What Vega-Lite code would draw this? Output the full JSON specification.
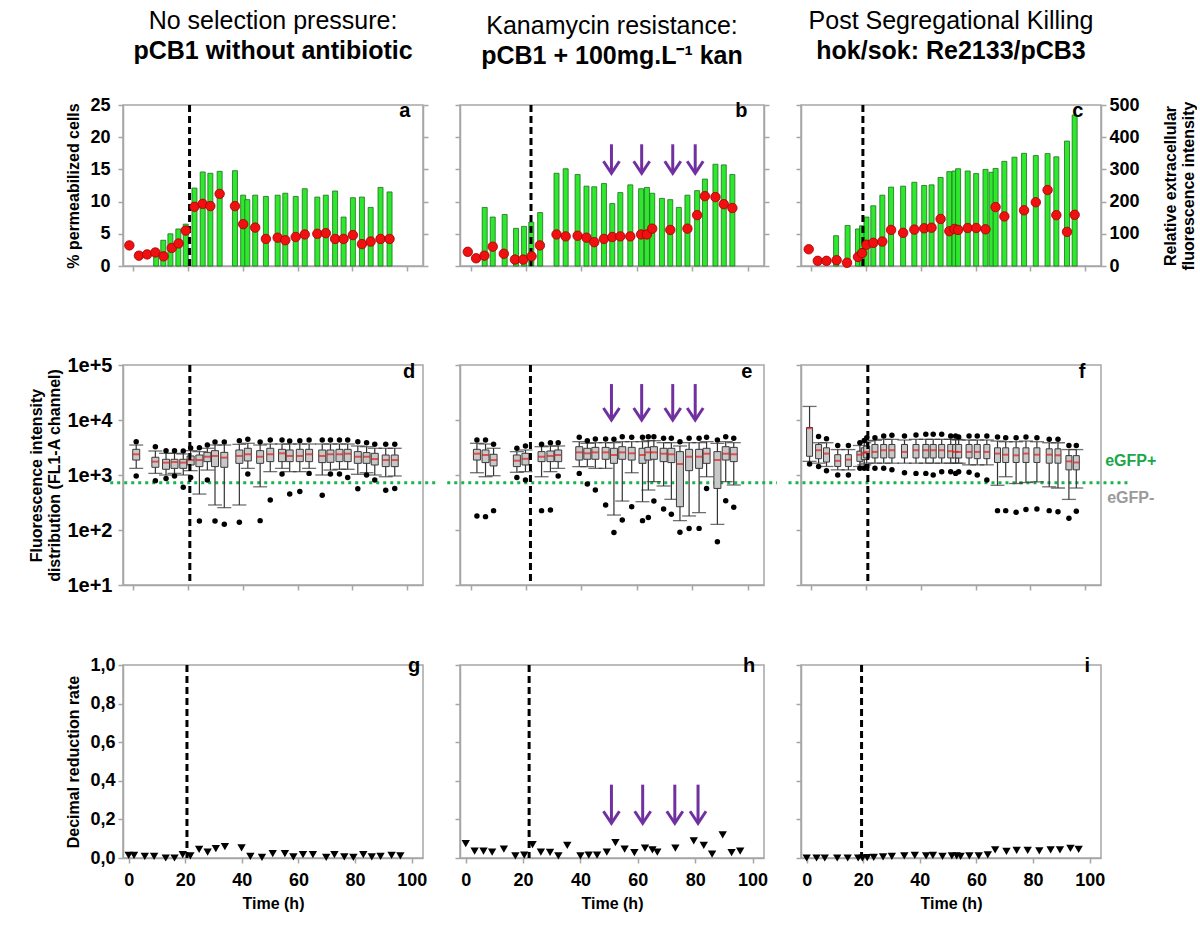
{
"$schema":"https://vega.github.io/schema/vega-lite/v6.json",
"padding":{"left":28,"top":8,"right":0,"bottom":0},
"background":"white",
"config":{
 "font":"Liberation Sans",
 "view":{"stroke":"#a6a6a6","strokeWidth":1.5},
 "axis":{"domainColor":"#a6a6a6","domainWidth":1.5,"tickColor":"#a6a6a6","tickWidth":1.5,"tickSize":5,"grid":false,"labelOverlap":false,"labelFlush":false,"labelBound":false,"labelFont":"Liberation Sans","labelFontSize":18,"labelFontWeight":"bold","labelColor":"#000","labelPadding":3,"titleFont":"Liberation Sans","titleFontSize":16,"titleFontWeight":"bold","titleColor":"#000"},
 "title":{"font":"Liberation Sans","fontSize":25,"fontWeight":"normal","color":"#000","subtitleFont":"Liberation Sans","subtitleFontSize":25,"subtitleFontWeight":"bold","subtitleColor":"#000","anchor":"middle","frame":"group","offset":32,"subtitlePadding":5}
},
"datasets":{
 "letters":[{"p":"a"},{"p":"b"},{"p":"c"},{"p":"d"},{"p":"e"},{"p":"f"},{"p":"g"},{"p":"h"},{"p":"i"}],
 "vl":[{"p":"a","t":20.5},{"p":"b","t":21.8},{"p":"c","t":18.8},{"p":"d","t":20.6},{"p":"e","t":21.6},{"p":"f","t":20.6},{"p":"g","t":20.6},{"p":"h","t":22.1},{"p":"i","t":19.4}],
 "arrows":[{"t":50.8},{"t":61.7},{"t":72.9},{"t":81.0}],
 "bars":[
  {"p":"a","t":8.3,"fl":52},{"p":"a","t":10.9,"fl":80},{"p":"a","t":13.5,"fl":100},{"p":"a","t":16.4,"fl":115},{"p":"a","t":19.1,"fl":130},{"p":"a","t":22.3,"fl":242},{"p":"a","t":25.3,"fl":292},{"p":"a","t":28.1,"fl":288},{"p":"a","t":31.5,"fl":294},{"p":"a","t":37.1,"fl":296},{"p":"a","t":40.1,"fl":220},{"p":"a","t":41.6,"fl":206},{"p":"a","t":44.5,"fl":220},{"p":"a","t":48.4,"fl":216},{"p":"a","t":52.7,"fl":220},{"p":"a","t":55.5,"fl":226},{"p":"a","t":59.3,"fl":216},{"p":"a","t":62.6,"fl":240},{"p":"a","t":67.2,"fl":214},{"p":"a","t":70.3,"fl":220},{"p":"a","t":73.7,"fl":233},{"p":"a","t":76.8,"fl":152},{"p":"a","t":80.2,"fl":212},{"p":"a","t":83.5,"fl":214},{"p":"a","t":86.7,"fl":182},{"p":"a","t":90.3,"fl":244},{"p":"a","t":93.6,"fl":230},
  {"p":"b","t":5.1,"fl":182},{"p":"b","t":8.0,"fl":152},{"p":"b","t":12.3,"fl":160},{"p":"b","t":16.4,"fl":117},{"p":"b","t":19.3,"fl":123},{"p":"b","t":21.9,"fl":136},{"p":"b","t":25.1,"fl":166},{"p":"b","t":31.0,"fl":288},{"p":"b","t":34.3,"fl":302},{"p":"b","t":38.6,"fl":284},{"p":"b","t":41.8,"fl":248},{"p":"b","t":44.6,"fl":246},{"p":"b","t":48.1,"fl":256},{"p":"b","t":51.1,"fl":194},{"p":"b","t":54.0,"fl":228},{"p":"b","t":57.6,"fl":252},{"p":"b","t":61.5,"fl":240},{"p":"b","t":63.6,"fl":244},{"p":"b","t":65.5,"fl":226},{"p":"b","t":69.0,"fl":210},{"p":"b","t":72.0,"fl":206},{"p":"b","t":75.1,"fl":182},{"p":"b","t":78.2,"fl":220},{"p":"b","t":81.7,"fl":234},{"p":"b","t":84.5,"fl":270},{"p":"b","t":88.3,"fl":316},{"p":"b","t":91.3,"fl":314},{"p":"b","t":94.4,"fl":284},
  {"p":"c","t":9.0,"fl":94},{"p":"c","t":13.2,"fl":126},{"p":"c","t":17.0,"fl":115},{"p":"c","t":18.5,"fl":125},{"p":"c","t":20.1,"fl":152},{"p":"c","t":22.6,"fl":187},{"p":"c","t":25.9,"fl":220},{"p":"c","t":29.1,"fl":245},{"p":"c","t":33.5,"fl":248},{"p":"c","t":37.6,"fl":260},{"p":"c","t":41.2,"fl":250},{"p":"c","t":43.9,"fl":252},{"p":"c","t":47.2,"fl":275},{"p":"c","t":50.4,"fl":293},{"p":"c","t":52.3,"fl":295},{"p":"c","t":53.6,"fl":302},{"p":"c","t":57.1,"fl":295},{"p":"c","t":60.2,"fl":287},{"p":"c","t":63.6,"fl":300},{"p":"c","t":65.8,"fl":291},{"p":"c","t":67.3,"fl":303},{"p":"c","t":70.5,"fl":325},{"p":"c","t":74.2,"fl":338},{"p":"c","t":77.7,"fl":350},{"p":"c","t":82.0,"fl":343},{"p":"c","t":86.3,"fl":349},{"p":"c","t":89.5,"fl":339},{"p":"c","t":93.4,"fl":388},{"p":"c","t":96.2,"fl":469}
 ],
 "dots":[
  {"p":"a","t":-1.5,"pct":3.2},{"p":"a","t":2.0,"pct":1.6},{"p":"a","t":5.0,"pct":1.8},{"p":"a","t":8.0,"pct":2.1},{"p":"a","t":11.0,"pct":1.5},{"p":"a","t":14.0,"pct":2.8},{"p":"a","t":16.5,"pct":3.5},{"p":"a","t":19.1,"pct":5.5},{"p":"a","t":22.3,"pct":9.2},{"p":"a","t":25.3,"pct":9.65},{"p":"a","t":28.1,"pct":9.3},{"p":"a","t":31.5,"pct":11.2},{"p":"a","t":37.1,"pct":9.3},{"p":"a","t":40.1,"pct":6.5},{"p":"a","t":44.5,"pct":5.96},{"p":"a","t":48.4,"pct":4.2},{"p":"a","t":52.7,"pct":4.4},{"p":"a","t":55.5,"pct":4.0},{"p":"a","t":59.3,"pct":4.5},{"p":"a","t":62.6,"pct":4.9},{"p":"a","t":67.2,"pct":5.0},{"p":"a","t":70.3,"pct":5.1},{"p":"a","t":73.7,"pct":4.2},{"p":"a","t":76.8,"pct":4.2},{"p":"a","t":80.2,"pct":4.8},{"p":"a","t":83.5,"pct":3.4},{"p":"a","t":86.7,"pct":3.8},{"p":"a","t":90.3,"pct":4.2},{"p":"a","t":93.6,"pct":4.2},
  {"p":"b","t":-1.0,"pct":2.2},{"p":"b","t":2.0,"pct":1.2},{"p":"b","t":5.0,"pct":1.6},{"p":"b","t":8.0,"pct":3.0},{"p":"b","t":12.0,"pct":1.9},{"p":"b","t":16.0,"pct":1.0},{"p":"b","t":19.0,"pct":1.0},{"p":"b","t":22.0,"pct":1.5},{"p":"b","t":25.0,"pct":3.2},{"p":"b","t":31.0,"pct":4.9},{"p":"b","t":34.3,"pct":4.6},{"p":"b","t":38.6,"pct":4.7},{"p":"b","t":41.8,"pct":4.4},{"p":"b","t":44.6,"pct":3.7},{"p":"b","t":48.1,"pct":4.2},{"p":"b","t":51.1,"pct":4.5},{"p":"b","t":54.0,"pct":4.6},{"p":"b","t":57.6,"pct":4.6},{"p":"b","t":61.5,"pct":4.9},{"p":"b","t":63.6,"pct":4.9},{"p":"b","t":65.5,"pct":5.8},{"p":"b","t":72.0,"pct":5.6},{"p":"b","t":78.2,"pct":5.8},{"p":"b","t":81.7,"pct":7.9},{"p":"b","t":84.5,"pct":10.85},{"p":"b","t":88.3,"pct":10.7},{"p":"b","t":91.3,"pct":9.6},{"p":"b","t":94.4,"pct":9.0},
  {"p":"c","t":-1.0,"pct":2.6},{"p":"c","t":2.3,"pct":0.8},{"p":"c","t":5.5,"pct":0.8},{"p":"c","t":9.2,"pct":0.9},{"p":"c","t":13.0,"pct":0.5},{"p":"c","t":17.0,"pct":1.4},{"p":"c","t":18.5,"pct":2.0},{"p":"c","t":20.1,"pct":3.3},{"p":"c","t":22.6,"pct":3.6},{"p":"c","t":25.9,"pct":3.8},{"p":"c","t":29.1,"pct":5.6},{"p":"c","t":33.5,"pct":5.15},{"p":"c","t":37.6,"pct":5.65},{"p":"c","t":41.2,"pct":5.85},{"p":"c","t":43.9,"pct":5.95},{"p":"c","t":47.2,"pct":7.3},{"p":"c","t":50.4,"pct":5.4},{"p":"c","t":52.3,"pct":5.75},{"p":"c","t":53.6,"pct":5.6},{"p":"c","t":57.1,"pct":5.9},{"p":"c","t":60.2,"pct":5.9},{"p":"c","t":63.6,"pct":5.7},{"p":"c","t":67.3,"pct":9.15},{"p":"c","t":70.5,"pct":7.7},{"p":"c","t":77.7,"pct":8.65},{"p":"c","t":82.0,"pct":9.9},{"p":"c","t":86.3,"pct":11.8},{"p":"c","t":89.5,"pct":7.9},{"p":"c","t":93.4,"pct":5.3},{"p":"c","t":96.2,"pct":7.95}
 ],
 "box":[
  {"p":"d","t":1.0,"hi":4040,"whi":3510,"q3":2930,"med":2380,"q1":1870,"wlo":1320,"lo":960},
  {"p":"d","t":8.0,"hi":3270,"whi":2730,"q3":2100,"med":1750,"q1":1380,"wlo":1070,"lo":790},
  {"p":"d","t":11.9,"hi":2770,"whi":2480,"q3":1930,"med":1680,"q1":1270,"wlo":1000,"lo":860},
  {"p":"d","t":15.0,"hi":2770,"whi":2480,"q3":1930,"med":1720,"q1":1320,"wlo":1070,"lo":960},
  {"p":"d","t":18.2,"hi":2730,"whi":2410,"q3":1930,"med":1680,"q1":1320,"wlo":1000,"lo":600},
  {"p":"d","t":20.9,"hi":3100,"whi":2770,"q3":2220,"med":1870,"q1":1520,"wlo":1200,"lo":900},
  {"p":"d","t":24.1,"hi":3140,"whi":2660,"q3":2310,"med":1870,"q1":1420,"wlo":450,"lo":146},
  {"p":"d","t":27.0,"hi":3510,"whi":3060,"q3":2580,"med":2150,"q1":1750,"wlo":1230,"lo":810},
  {"p":"d","t":29.8,"hi":3980,"whi":3510,"q3":2770,"med":2220,"q1":1420,"wlo":285,"lo":146},
  {"p":"d","t":33.2,"hi":3980,"whi":3510,"q3":2580,"med":2070,"q1":1380,"wlo":255,"lo":127},
  {"p":"d","t":38.7,"hi":4210,"whi":3610,"q3":2850,"med":2220,"q1":1630,"wlo":285,"lo":138},
  {"p":"d","t":41.8,"hi":4450,"whi":3770,"q3":3060,"med":2380,"q1":1800,"wlo":1320,"lo":1040},
  {"p":"d","t":46.3,"hi":3980,"whi":3510,"q3":2770,"med":2150,"q1":1630,"wlo":610,"lo":148},
  {"p":"d","t":50.0,"hi":4330,"whi":3660,"q3":3060,"med":2380,"q1":1750,"wlo":1150,"lo":350},
  {"p":"d","t":54.3,"hi":4330,"whi":3660,"q3":2930,"med":2480,"q1":1750,"wlo":1320,"lo":1040},
  {"p":"d","t":57.1,"hi":4150,"whi":3660,"q3":2850,"med":2220,"q1":1750,"wlo":1150,"lo":450},
  {"p":"d","t":60.8,"hi":4210,"whi":3660,"q3":2930,"med":2220,"q1":1750,"wlo":1150,"lo":500},
  {"p":"d","t":64.2,"hi":4330,"whi":3660,"q3":2930,"med":2380,"q1":1750,"wlo":1320,"lo":1070},
  {"p":"d","t":69.0,"hi":4330,"whi":3660,"q3":2850,"med":2220,"q1":1680,"wlo":1000,"lo":430},
  {"p":"d","t":72.0,"hi":4330,"whi":3660,"q3":2850,"med":2380,"q1":1700,"wlo":1230,"lo":1040},
  {"p":"d","t":75.3,"hi":4330,"whi":3660,"q3":2930,"med":2380,"q1":1750,"wlo":1270,"lo":1040},
  {"p":"d","t":78.3,"hi":4330,"whi":3660,"q3":2930,"med":2440,"q1":1750,"wlo":1270,"lo":900},
  {"p":"d","t":82.0,"hi":4040,"whi":3370,"q3":2660,"med":2150,"q1":1630,"wlo":1030,"lo":565},
  {"p":"d","t":85.2,"hi":3870,"whi":3270,"q3":2550,"med":2150,"q1":1630,"wlo":1100,"lo":1000},
  {"p":"d","t":88.2,"hi":3610,"whi":3060,"q3":2480,"med":1950,"q1":1520,"wlo":1000,"lo":810},
  {"p":"d","t":92.2,"hi":3610,"whi":3060,"q3":2310,"med":1870,"q1":1420,"wlo":930,"lo":530},
  {"p":"d","t":95.5,"hi":3610,"whi":3060,"q3":2310,"med":1870,"q1":1420,"wlo":960,"lo":570},
  {"p":"e","t":2.3,"hi":4330,"whi":3770,"q3":2930,"med":2440,"q1":1870,"wlo":1100,"lo":180},
  {"p":"e","t":5.4,"hi":4330,"whi":3660,"q3":2850,"med":2310,"q1":1680,"wlo":930,"lo":175},
  {"p":"e","t":8.3,"hi":3610,"whi":3060,"q3":2380,"med":1870,"q1":1460,"wlo":970,"lo":225},
  {"p":"e","t":16.7,"hi":3060,"whi":2660,"q3":2310,"med":1820,"q1":1420,"wlo":1120,"lo":900},
  {"p":"e","t":19.8,"hi":3370,"whi":2850,"q3":2480,"med":1970,"q1":1520,"wlo":1150,"lo":810},
  {"p":"e","t":25.6,"hi":3610,"whi":3270,"q3":2660,"med":2150,"q1":1750,"wlo":930,"lo":225},
  {"p":"e","t":28.8,"hi":3870,"whi":3370,"q3":2730,"med":2220,"q1":1750,"wlo":1150,"lo":231},
  {"p":"e","t":31.6,"hi":3870,"whi":3370,"q3":2850,"med":2310,"q1":1750,"wlo":1320,"lo":960},
  {"p":"e","t":39.2,"hi":4840,"whi":4040,"q3":3270,"med":2580,"q1":1870,"wlo":1420,"lo":1070},
  {"p":"e","t":42.1,"hi":4210,"whi":3770,"q3":3060,"med":2480,"q1":1930,"wlo":1420,"lo":686},
  {"p":"e","t":45.0,"hi":4520,"whi":3870,"q3":3180,"med":2580,"q1":1930,"wlo":1320,"lo":533},
  {"p":"e","t":48.7,"hi":4520,"whi":3870,"q3":3180,"med":2580,"q1":1930,"wlo":1320,"lo":285},
  {"p":"e","t":51.7,"hi":4450,"whi":3870,"q3":3060,"med":2310,"q1":1630,"wlo":187,"lo":90},
  {"p":"e","t":54.7,"hi":4980,"whi":4040,"q3":3270,"med":2580,"q1":1930,"wlo":336,"lo":152},
  {"p":"e","t":58.1,"hi":4840,"whi":4040,"q3":3180,"med":2480,"q1":1870,"wlo":1100,"lo":265},
  {"p":"e","t":62.0,"hi":4840,"whi":4040,"q3":3060,"med":2310,"q1":1630,"wlo":327,"lo":148},
  {"p":"e","t":64.1,"hi":4980,"whi":4210,"q3":3180,"med":2580,"q1":1870,"wlo":533,"lo":168},
  {"p":"e","t":66.1,"hi":4980,"whi":4210,"q3":3270,"med":2580,"q1":1930,"wlo":757,"lo":336},
  {"p":"e","t":69.6,"hi":4640,"whi":3870,"q3":3060,"med":2440,"q1":1750,"wlo":631,"lo":241},
  {"p":"e","t":72.4,"hi":4640,"whi":3870,"q3":3060,"med":2380,"q1":1680,"wlo":361,"lo":193},
  {"p":"e","t":75.5,"hi":4040,"whi":3370,"q3":2660,"med":1585,"q1":265,"wlo":148,"lo":91},
  {"p":"e","t":78.8,"hi":4640,"whi":3870,"q3":2930,"med":2150,"q1":1200,"wlo":180,"lo":106},
  {"p":"e","t":82.4,"hi":4640,"whi":3870,"q3":2930,"med":2150,"q1":1320,"wlo":207,"lo":107},
  {"p":"e","t":85.1,"hi":4840,"whi":4040,"q3":3060,"med":2440,"q1":1630,"wlo":930,"lo":570},
  {"p":"e","t":89.0,"hi":4330,"whi":3770,"q3":2660,"med":1870,"q1":570,"wlo":127,"lo":61},
  {"p":"e","t":92.0,"hi":4980,"whi":4040,"q3":3270,"med":2440,"q1":1870,"wlo":757,"lo":341},
  {"p":"e","t":94.9,"hi":4640,"whi":3870,"q3":3180,"med":2380,"q1":1750,"wlo":658,"lo":258},
  {"p":"f","t":-0.7,"hi":null,"whi":17650,"q3":7310,"med":7100,"q1":2190,"wlo":1770,"lo":1580},
  {"p":"f","t":2.6,"hi":4990,"whi":3860,"q3":3590,"med":2820,"q1":1980,"wlo":1640,"lo":1430},
  {"p":"f","t":5.5,"hi":4570,"whi":3860,"q3":3120,"med":2450,"q1":1720,"wlo":1430,"lo":1200},
  {"p":"f","t":9.6,"hi":3440,"whi":2900,"q3":2340,"med":1810,"q1":1430,"wlo":1240,"lo":1000},
  {"p":"f","t":13.5,"hi":3440,"whi":2900,"q3":2340,"med":1900,"q1":1430,"wlo":1240,"lo":1000},
  {"p":"f","t":17.7,"hi":3860,"whi":3440,"q3":2710,"med":2340,"q1":1770,"wlo":1430,"lo":1330},
  {"p":"f","t":19.3,"hi":4260,"whi":3860,"q3":3120,"med":2520,"q1":1900,"wlo":1530,"lo":1330},
  {"p":"f","t":20.2,"hi":4770,"whi":4140,"q3":3350,"med":2630,"q1":2040,"wlo":1640,"lo":1430},
  {"p":"f","t":23.2,"hi":4770,"whi":4260,"q3":3590,"med":2630,"q1":2040,"wlo":1640,"lo":1330},
  {"p":"f","t":26.4,"hi":5120,"whi":4450,"q3":3590,"med":2820,"q1":2040,"wlo":1640,"lo":1330},
  {"p":"f","t":29.4,"hi":5270,"whi":4450,"q3":3590,"med":2820,"q1":2040,"wlo":1640,"lo":1240},
  {"p":"f","t":34.0,"hi":5120,"whi":4330,"q3":3590,"med":2630,"q1":2040,"wlo":1640,"lo":1100},
  {"p":"f","t":38.2,"hi":5350,"whi":4450,"q3":3590,"med":2820,"q1":2040,"wlo":1640,"lo":1070},
  {"p":"f","t":41.8,"hi":5510,"whi":4450,"q3":3590,"med":2820,"q1":2040,"wlo":1640,"lo":1070},
  {"p":"f","t":44.5,"hi":5510,"whi":4450,"q3":3590,"med":2820,"q1":2040,"wlo":1640,"lo":1000},
  {"p":"f","t":47.6,"hi":5510,"whi":4450,"q3":3590,"med":2820,"q1":2040,"wlo":1640,"lo":1150},
  {"p":"f","t":50.9,"hi":5120,"whi":4450,"q3":3590,"med":2710,"q1":2040,"wlo":1640,"lo":1150},
  {"p":"f","t":52.7,"hi":5120,"whi":4450,"q3":3590,"med":2630,"q1":2040,"wlo":1640,"lo":1070},
  {"p":"f","t":53.8,"hi":4910,"whi":4330,"q3":3590,"med":2630,"q1":2040,"wlo":1640,"lo":1150},
  {"p":"f","t":57.6,"hi":5120,"whi":4330,"q3":3590,"med":2630,"q1":2040,"wlo":1530,"lo":1120},
  {"p":"f","t":60.6,"hi":5120,"whi":4330,"q3":3590,"med":2630,"q1":1980,"wlo":1530,"lo":1000},
  {"p":"f","t":64.1,"hi":5120,"whi":4330,"q3":3590,"med":2630,"q1":1980,"wlo":1530,"lo":810},
  {"p":"f","t":68.0,"hi":4910,"whi":4140,"q3":3120,"med":2450,"q1":1690,"wlo":650,"lo":225},
  {"p":"f","t":71.0,"hi":4770,"whi":4030,"q3":3120,"med":2340,"q1":1690,"wlo":930,"lo":225},
  {"p":"f","t":74.8,"hi":4770,"whi":4030,"q3":3120,"med":2280,"q1":1690,"wlo":700,"lo":210},
  {"p":"f","t":78.4,"hi":4910,"whi":4140,"q3":3120,"med":2450,"q1":1690,"wlo":730,"lo":235},
  {"p":"f","t":82.4,"hi":4770,"whi":4030,"q3":3120,"med":2340,"q1":1690,"wlo":750,"lo":242},
  {"p":"f","t":86.9,"hi":4450,"whi":3860,"q3":2990,"med":2340,"q1":1640,"wlo":610,"lo":225},
  {"p":"f","t":90.1,"hi":4450,"whi":3860,"q3":2990,"med":2280,"q1":1640,"wlo":580,"lo":215},
  {"p":"f","t":94.1,"hi":3440,"whi":2900,"q3":2250,"med":1770,"q1":1240,"wlo":360,"lo":164},
  {"p":"f","t":96.8,"hi":3440,"whi":2900,"q3":2250,"med":1690,"q1":1240,"wlo":580,"lo":219}
 ],
 "drr":[
  {"p":"g","t":0,"v":0.014},{"p":"g","t":1.9,"v":0.014},{"p":"g","t":5.7,"v":0.008},{"p":"g","t":9.0,"v":0.008},{"p":"g","t":13.1,"v":0.0},{"p":"g","t":16.2,"v":0.0},{"p":"g","t":19.1,"v":0.018},{"p":"g","t":21.8,"v":0.011},{"p":"g","t":24.9,"v":0.045},{"p":"g","t":27.9,"v":0.03},{"p":"g","t":30.8,"v":0.048},{"p":"g","t":34.0,"v":0.059},{"p":"g","t":39.9,"v":0.052},{"p":"g","t":43.0,"v":0.008},{"p":"g","t":47.1,"v":0.003},{"p":"g","t":50.9,"v":0.023},{"p":"g","t":55.2,"v":0.023},{"p":"g","t":58.2,"v":0.006},{"p":"g","t":61.6,"v":0.018},{"p":"g","t":65.1,"v":0.018},{"p":"g","t":69.8,"v":0.003},{"p":"g","t":72.7,"v":0.018},{"p":"g","t":76.2,"v":0.006},{"p":"g","t":79.4,"v":0.003},{"p":"g","t":82.9,"v":0.018},{"p":"g","t":85.9,"v":0.006},{"p":"g","t":89.0,"v":0.008},{"p":"g","t":92.9,"v":0.014},{"p":"g","t":96.0,"v":0.011},
  {"p":"h","t":0,"v":0.074},{"p":"h","t":3.1,"v":0.035},{"p":"h","t":6.2,"v":0.035},{"p":"h","t":9.2,"v":0.031},{"p":"h","t":13.3,"v":0.046},{"p":"h","t":17.3,"v":0.011},{"p":"h","t":20.4,"v":0.015},{"p":"h","t":23.3,"v":0.069},{"p":"h","t":26.2,"v":0.031},{"p":"h","t":29.4,"v":0.029},{"p":"h","t":32.3,"v":0.011},{"p":"h","t":35.4,"v":0.065},{"p":"h","t":40.0,"v":0.011},{"p":"h","t":42.9,"v":0.015},{"p":"h","t":45.8,"v":0.015},{"p":"h","t":49.2,"v":0.031},{"p":"h","t":52.2,"v":0.08},{"p":"h","t":55.4,"v":0.046},{"p":"h","t":58.8,"v":0.028},{"p":"h","t":62.5,"v":0.051},{"p":"h","t":65.1,"v":0.042},{"p":"h","t":66.8,"v":0.031},{"p":"h","t":73.1,"v":0.051},{"p":"h","t":79.5,"v":0.089},{"p":"h","t":83.0,"v":0.066},{"p":"h","t":85.9,"v":0.02},{"p":"h","t":89.6,"v":0.12},{"p":"h","t":92.7,"v":0.028},{"p":"h","t":95.7,"v":0.035},
  {"p":"i","t":0,"v":0},{"p":"i","t":3.5,"v":0},{"p":"i","t":6.4,"v":0},{"p":"i","t":10.8,"v":0},{"p":"i","t":14.5,"v":0},{"p":"i","t":18.2,"v":0},{"p":"i","t":19.7,"v":0},{"p":"i","t":21.4,"v":0.002},{"p":"i","t":23.7,"v":0.003},{"p":"i","t":27.0,"v":0.006},{"p":"i","t":30.1,"v":0.008},{"p":"i","t":34.5,"v":0.011},{"p":"i","t":38.2,"v":0.014},{"p":"i","t":42.2,"v":0.011},{"p":"i","t":44.6,"v":0.014},{"p":"i","t":48.0,"v":0.008},{"p":"i","t":51.3,"v":0.011},{"p":"i","t":53.0,"v":0.011},{"p":"i","t":54.4,"v":0.008},{"p":"i","t":57.5,"v":0.011},{"p":"i","t":60.8,"v":0.011},{"p":"i","t":64.0,"v":0.016},{"p":"i","t":66.6,"v":0.042},{"p":"i","t":70.6,"v":0.034},{"p":"i","t":74.2,"v":0.039},{"p":"i","t":78.1,"v":0.039},{"p":"i","t":82.2,"v":0.037},{"p":"i","t":86.2,"v":0.042},{"p":"i","t":89.5,"v":0.042},{"p":"i","t":93.2,"v":0.05},{"p":"i","t":96.1,"v":0.045}
 ]
},
"spacing":59,
"vconcat":[
 {"hconcat":[
  {"width":300,"height":161,
   "title":{"text":"No selection pressure:","subtitle":"pCB1 without antibiotic"},
   "resolve":{"scale":{"y":"independent"}},
   "layer":[
    {"data":{"name":"bars"},"transform":[{"filter":"datum.p==='a'"}],
     "mark":{"type":"bar","size":5,"fill":"#2ee82e","stroke":"#1e6e1e","strokeWidth":0.8},
     "encoding":{"x":{"field":"t","type":"quantitative","scale":{"domain":[-2,104],"nice":false,"zero":false},"axis":{"values":[0,20,40,60,80,100],"labelOpacity":0,"labelFontSize":14,"labelPadding":9,"title":null}},
      "y":{"field":"fl","type":"quantitative","scale":{"domain":[0,500],"nice":false},"axis":{"orient":"right","values":[0,100,200,300,400,500],"labels":false,"title":null}}}},
    {"layer":[
     {"data":{"name":"vl"},"transform":[{"filter":"datum.p==='a'"}],"mark":{"type":"rule","strokeDash":[7,4],"strokeWidth":3,"color":"#000"},
      "encoding":{"x":{"field":"t","type":"quantitative"}}},
     {"data":{"name":"dots"},"transform":[{"filter":"datum.p==='a'"}],"mark":{"type":"circle","size":90,"fill":"#f01010","stroke":"#a00000","strokeWidth":0.8,"opacity":1},
      "encoding":{"x":{"field":"t","type":"quantitative"},
       "y":{"field":"pct","type":"quantitative","scale":{"domain":[0,25],"nice":false},"axis":{"orient":"left","values":[0,5,10,15,20,25],"labelOverlap":false,"labelPadding":8,"title":"% permeabilized cells","titlePadding":8}}}},
     {"data":{"name":"letters"},"transform":[{"filter":"datum.p==='a'"}],"mark":{"type":"text","fontSize":20,"fontWeight":"bold","align":"right","baseline":"middle"},
      "encoding":{"text":{"field":"p"},"x":{"datum":101.2,"type":"quantitative"},"y":{"datum":24.0,"type":"quantitative","axis":{"orient":"left","values":[0,5,10,15,20,25],"labelOverlap":false,"labelPadding":8,"title":"% permeabilized cells","titlePadding":8}}}}
    ]}
   ]},
  {"width":304,"height":161,
   "title":{"text":"Kanamycin resistance:","subtitle":"pCB1 + 100mg.L⁻¹ kan"},
   "resolve":{"scale":{"y":"independent"}},
   "layer":[
    {"data":{"name":"bars"},"transform":[{"filter":"datum.p==='b'"}],
     "mark":{"type":"bar","size":5,"fill":"#2ee82e","stroke":"#1e6e1e","strokeWidth":0.8},
     "encoding":{"x":{"field":"t","type":"quantitative","scale":{"domain":[-2,104],"nice":false,"zero":false},"axis":{"values":[0,20,40,60,80,100],"labelOpacity":0,"labelFontSize":14,"labelPadding":9,"title":null}},
      "y":{"field":"fl","type":"quantitative","scale":{"domain":[0,500],"nice":false},"axis":{"orient":"right","values":[0,100,200,300,400,500],"labels":false,"title":null}}}},
    {"layer":[
     {"data":{"name":"vl"},"transform":[{"filter":"datum.p==='b'"}],"mark":{"type":"rule","strokeDash":[7,4],"strokeWidth":3,"color":"#000"},
      "encoding":{"x":{"field":"t","type":"quantitative"}}},
     {"data":{"name":"dots"},"transform":[{"filter":"datum.p==='b'"}],"mark":{"type":"circle","size":90,"fill":"#f01010","stroke":"#a00000","strokeWidth":0.8,"opacity":1},
      "encoding":{"x":{"field":"t","type":"quantitative"},
       "y":{"field":"pct","type":"quantitative","scale":{"domain":[0,25],"nice":false},"axis":{"orient":"left","values":[0,5,10,15,20,25],"labels":false,"title":null}}}},
     {"data":{"name":"arrows"},"mark":{"type":"rule","strokeWidth":3,"color":"#7030a0"},
      "encoding":{"x":{"field":"t","type":"quantitative"},"y":{"datum":18.9,"type":"quantitative","axis":{"orient":"left","values":[0,5,10,15,20,25],"labels":false,"title":null}},"y2":{"datum":14.5}}},
     {"data":{"name":"arrows"},"mark":{"type":"point","shape":"M-1,-1.5L0,0L1,-1.5","size":256,"filled":false,"stroke":"#7030a0","strokeWidth":3,"opacity":1},
      "encoding":{"x":{"field":"t","type":"quantitative"},"y":{"datum":14.4,"type":"quantitative","axis":{"orient":"left","values":[0,5,10,15,20,25],"labels":false,"title":null}}}},
     {"data":{"name":"letters"},"transform":[{"filter":"datum.p==='b'"}],"mark":{"type":"text","fontSize":20,"fontWeight":"bold","align":"right","baseline":"middle"},
      "encoding":{"text":{"field":"p"},"x":{"datum":99.8,"type":"quantitative"},"y":{"datum":24.0,"type":"quantitative","axis":{"orient":"left","values":[0,5,10,15,20,25],"labels":false,"title":null}}}}
    ]}
   ]},
  {"width":300,"height":161,
   "title":{"text":"Post Segregational Killing","subtitle":"hok/sok: Re2133/pCB3"},
   "resolve":{"scale":{"y":"independent"}},
   "layer":[
    {"data":{"name":"bars"},"transform":[{"filter":"datum.p==='c'"}],
     "mark":{"type":"bar","size":5,"fill":"#2ee82e","stroke":"#1e6e1e","strokeWidth":0.8},
     "encoding":{"x":{"field":"t","type":"quantitative","scale":{"domain":[-2,104],"nice":false,"zero":false},"axis":{"values":[0,20,40,60,80,100],"labelOpacity":0,"labelFontSize":14,"labelPadding":9,"title":null}},
      "y":{"field":"fl","type":"quantitative","scale":{"domain":[0,500],"nice":false},"axis":{"orient":"right","values":[0,100,200,300,400,500],"labelOverlap":false,"title":["Relative extracellular","fluorescence intensity"],"titleAngle":270,"titleBaseline":"top","titlePadding":5}}}},
    {"layer":[
     {"data":{"name":"vl"},"transform":[{"filter":"datum.p==='c'"}],"mark":{"type":"rule","strokeDash":[7,4],"strokeWidth":3,"color":"#000"},
      "encoding":{"x":{"field":"t","type":"quantitative"}}},
     {"data":{"name":"dots"},"transform":[{"filter":"datum.p==='c'"}],"mark":{"type":"circle","size":90,"fill":"#f01010","stroke":"#a00000","strokeWidth":0.8,"opacity":1},
      "encoding":{"x":{"field":"t","type":"quantitative"},
       "y":{"field":"pct","type":"quantitative","scale":{"domain":[0,25],"nice":false},"axis":{"orient":"left","values":[0,5,10,15,20,25],"labels":false,"title":null}}}},
     {"data":{"name":"letters"},"transform":[{"filter":"datum.p==='c'"}],"mark":{"type":"text","fontSize":20,"fontWeight":"bold","align":"right","baseline":"middle"},
      "encoding":{"text":{"field":"p"},"x":{"datum":99.4,"type":"quantitative"},"y":{"datum":24.0,"type":"quantitative","axis":{"orient":"left","values":[0,5,10,15,20,25],"labels":false,"title":null}}}}
    ]}
   ]}
 ],"spacing":37,"bounds":"flush"},
 {"hconcat":[
   {"width":300,"height":220,
    "layer":[
     {"data":{"name":"letters"},"transform":[{"filter":"datum.p==='d'"}],"mark":{"type":"rule","strokeDash":[3,4],"strokeWidth":3,"color":"#19b44b"},
      "encoding":{"x":{"datum":-8.5,"type":"quantitative","scale":{"domain":[-2,104],"nice":false,"zero":false},"axis":{"values":[0,20,40,60,80,100],"labels":false,"title":null}},"x2":{"datum":110.5},
       "y":{"datum":720,"type":"quantitative","scale":{"type":"log","domain":[10,100000],"nice":false},"axis":{"values":[10,100,1000,10000,100000],"labelOverlap":false,"labelExpr":"'1e+' + round(log(datum.value)/LN10)","labelFontSize":20,"labelPadding":6,"title":["Fluorescence intensity","distribution (FL1-A channel)"],"titlePadding":4}}}},
     {"data":{"name":"box"},"transform":[{"filter":"datum.p==='d'"}],"mark":{"type":"rule","color":"#333","strokeWidth":1.2},
      "encoding":{"x":{"field":"t","type":"quantitative"},"y":{"field":"wlo","type":"quantitative"},"y2":{"field":"whi"}}},
     {"data":{"name":"box"},"transform":[{"filter":"datum.p==='d'"}],"mark":{"type":"tick","orient":"horizontal","size":14,"thickness":1.3,"color":"#333"},
      "encoding":{"x":{"field":"t","type":"quantitative"},"y":{"field":"whi","type":"quantitative"}}},
     {"data":{"name":"box"},"transform":[{"filter":"datum.p==='d'"}],"mark":{"type":"tick","orient":"horizontal","size":14,"thickness":1.3,"color":"#333"},
      "encoding":{"x":{"field":"t","type":"quantitative"},"y":{"field":"wlo","type":"quantitative"}}},
     {"data":{"name":"box"},"transform":[{"filter":"datum.p==='d'"}],"mark":{"type":"bar","size":7,"fill":"#c8c8c8","stroke":"#3a3a3a","strokeWidth":1},
      "encoding":{"x":{"field":"t","type":"quantitative"},"y":{"field":"q1","type":"quantitative"},"y2":{"field":"q3"}}},
     {"data":{"name":"box"},"transform":[{"filter":"datum.p==='d'"}],"mark":{"type":"tick","orient":"horizontal","size":7,"thickness":2,"color":"#e02020"},
      "encoding":{"x":{"field":"t","type":"quantitative"},"y":{"field":"med","type":"quantitative"}}},
     {"data":{"name":"box"},"transform":[{"filter":"datum.p==='d'"}],"mark":{"type":"circle","size":30,"color":"#000","opacity":1},
      "encoding":{"x":{"field":"t","type":"quantitative"},"y":{"field":"hi","type":"quantitative"}}},
     {"data":{"name":"box"},"transform":[{"filter":"datum.p==='d'"}],"mark":{"type":"circle","size":30,"color":"#000","opacity":1},
      "encoding":{"x":{"field":"t","type":"quantitative"},"y":{"field":"lo","type":"quantitative"}}},
     {"data":{"name":"vl"},"transform":[{"filter":"datum.p==='d'"}],"mark":{"type":"rule","strokeDash":[7,4],"strokeWidth":3,"color":"#000"},
      "encoding":{"x":{"field":"t","type":"quantitative"}}},
     {"data":{"name":"letters"},"transform":[{"filter":"datum.p==='d'"}],"mark":{"type":"text","fontSize":20,"fontWeight":"bold","align":"right","baseline":"middle"},
      "encoding":{"text":{"field":"p"},"x":{"datum":103.0,"type":"quantitative"},"y":{"datum":75000,"type":"quantitative"}}}
    ]},
   {"width":304,"height":220,
    "layer":[
     {"data":{"name":"letters"},"transform":[{"filter":"datum.p==='e'"}],"mark":{"type":"rule","strokeDash":[3,4],"strokeWidth":3,"color":"#19b44b"},
      "encoding":{"x":{"datum":-8.4,"type":"quantitative","scale":{"domain":[-2,104],"nice":false,"zero":false},"axis":{"values":[0,20,40,60,80,100],"labels":false,"title":null}},"x2":{"datum":110.5},
       "y":{"datum":720,"type":"quantitative","scale":{"type":"log","domain":[10,100000],"nice":false},"axis":{"values":[10,100,1000,10000,100000],"labels":false,"title":null}}}},
     {"data":{"name":"box"},"transform":[{"filter":"datum.p==='e'"}],"mark":{"type":"rule","color":"#333","strokeWidth":1.2},
      "encoding":{"x":{"field":"t","type":"quantitative"},"y":{"field":"wlo","type":"quantitative"},"y2":{"field":"whi"}}},
     {"data":{"name":"box"},"transform":[{"filter":"datum.p==='e'"}],"mark":{"type":"tick","orient":"horizontal","size":14,"thickness":1.3,"color":"#333"},
      "encoding":{"x":{"field":"t","type":"quantitative"},"y":{"field":"whi","type":"quantitative"}}},
     {"data":{"name":"box"},"transform":[{"filter":"datum.p==='e'"}],"mark":{"type":"tick","orient":"horizontal","size":14,"thickness":1.3,"color":"#333"},
      "encoding":{"x":{"field":"t","type":"quantitative"},"y":{"field":"wlo","type":"quantitative"}}},
     {"data":{"name":"box"},"transform":[{"filter":"datum.p==='e'"}],"mark":{"type":"bar","size":7,"fill":"#c8c8c8","stroke":"#3a3a3a","strokeWidth":1},
      "encoding":{"x":{"field":"t","type":"quantitative"},"y":{"field":"q1","type":"quantitative"},"y2":{"field":"q3"}}},
     {"data":{"name":"box"},"transform":[{"filter":"datum.p==='e'"}],"mark":{"type":"tick","orient":"horizontal","size":7,"thickness":2,"color":"#e02020"},
      "encoding":{"x":{"field":"t","type":"quantitative"},"y":{"field":"med","type":"quantitative"}}},
     {"data":{"name":"box"},"transform":[{"filter":"datum.p==='e'"}],"mark":{"type":"circle","size":30,"color":"#000","opacity":1},
      "encoding":{"x":{"field":"t","type":"quantitative"},"y":{"field":"hi","type":"quantitative"}}},
     {"data":{"name":"box"},"transform":[{"filter":"datum.p==='e'"}],"mark":{"type":"circle","size":30,"color":"#000","opacity":1},
      "encoding":{"x":{"field":"t","type":"quantitative"},"y":{"field":"lo","type":"quantitative"}}},
     {"data":{"name":"vl"},"transform":[{"filter":"datum.p==='e'"}],"mark":{"type":"rule","strokeDash":[7,4],"strokeWidth":3,"color":"#000"},
      "encoding":{"x":{"field":"t","type":"quantitative"}}},
     {"data":{"name":"arrows"},"mark":{"type":"rule","strokeWidth":3,"color":"#7030a0"},
      "encoding":{"x":{"field":"t","type":"quantitative"},"y":{"datum":45000,"type":"quantitative"},"y2":{"datum":10500}}},
     {"data":{"name":"arrows"},"mark":{"type":"point","shape":"M-1,-1.5L0,0L1,-1.5","size":256,"filled":false,"stroke":"#7030a0","strokeWidth":3,"opacity":1},
      "encoding":{"x":{"field":"t","type":"quantitative"},"y":{"datum":10000,"type":"quantitative"}}},
     {"data":{"name":"letters"},"transform":[{"filter":"datum.p==='e'"}],"mark":{"type":"text","fontSize":20,"fontWeight":"bold","align":"right","baseline":"middle"},
      "encoding":{"text":{"field":"p"},"x":{"datum":101.6,"type":"quantitative"},"y":{"datum":75000,"type":"quantitative"}}}
    ]},
   {"width":300,"height":220,
    "layer":[
     {"data":{"name":"letters"},"transform":[{"filter":"datum.p==='f'"}],"mark":{"type":"rule","strokeDash":[3,4],"strokeWidth":3,"color":"#19b44b"},
      "encoding":{"x":{"datum":-8.4,"type":"quantitative","scale":{"domain":[-2,104],"nice":false,"zero":false},"axis":{"values":[0,20,40,60,80,100],"labels":false,"title":null}},"x2":{"datum":115.5},
       "y":{"datum":720,"type":"quantitative","scale":{"type":"log","domain":[10,100000],"nice":false},"axis":{"values":[10,100,1000,10000,100000],"labels":false,"title":null}}}},
     {"data":{"name":"box"},"transform":[{"filter":"datum.p==='f'"}],"mark":{"type":"rule","color":"#333","strokeWidth":1.2},
      "encoding":{"x":{"field":"t","type":"quantitative"},"y":{"field":"wlo","type":"quantitative"},"y2":{"field":"whi"}}},
     {"data":{"name":"box"},"transform":[{"filter":"datum.p==='f'"}],"mark":{"type":"tick","orient":"horizontal","size":14,"thickness":1.3,"color":"#333"},
      "encoding":{"x":{"field":"t","type":"quantitative"},"y":{"field":"whi","type":"quantitative"}}},
     {"data":{"name":"box"},"transform":[{"filter":"datum.p==='f'"}],"mark":{"type":"tick","orient":"horizontal","size":14,"thickness":1.3,"color":"#333"},
      "encoding":{"x":{"field":"t","type":"quantitative"},"y":{"field":"wlo","type":"quantitative"}}},
     {"data":{"name":"box"},"transform":[{"filter":"datum.p==='f'"}],"mark":{"type":"bar","size":6,"fill":"#c8c8c8","stroke":"#3a3a3a","strokeWidth":1},
      "encoding":{"x":{"field":"t","type":"quantitative"},"y":{"field":"q1","type":"quantitative"},"y2":{"field":"q3"}}},
     {"data":{"name":"box"},"transform":[{"filter":"datum.p==='f'"}],"mark":{"type":"tick","orient":"horizontal","size":6,"thickness":2,"color":"#e02020"},
      "encoding":{"x":{"field":"t","type":"quantitative"},"y":{"field":"med","type":"quantitative"}}},
     {"data":{"name":"box"},"transform":[{"filter":"datum.p==='f'"}],"mark":{"type":"circle","size":30,"color":"#000","opacity":1},
      "encoding":{"x":{"field":"t","type":"quantitative"},"y":{"field":"hi","type":"quantitative"}}},
     {"data":{"name":"box"},"transform":[{"filter":"datum.p==='f'"}],"mark":{"type":"circle","size":30,"color":"#000","opacity":1},
      "encoding":{"x":{"field":"t","type":"quantitative"},"y":{"field":"lo","type":"quantitative"}}},
     {"data":{"name":"vl"},"transform":[{"filter":"datum.p==='f'"}],"mark":{"type":"rule","strokeDash":[7,4],"strokeWidth":3,"color":"#000"},
      "encoding":{"x":{"field":"t","type":"quantitative"}}},
     {"data":{"name":"letters"},"transform":[{"filter":"datum.p==='f'"}],"mark":{"type":"text","fontSize":20,"fontWeight":"bold","align":"right","baseline":"middle"},
      "encoding":{"text":{"field":"p"},"x":{"datum":100.1,"type":"quantitative"},"y":{"datum":75000,"type":"quantitative"}}},
     {"data":{"name":"letters"},"transform":[{"filter":"datum.p==='f'"}],"mark":{"type":"text","text":"eGFP+","fontSize":16,"fontWeight":"bold","color":"#1aa74a","align":"center","baseline":"middle"},
      "encoding":{"x":{"datum":116.7,"type":"quantitative"},"y":{"datum":1800,"type":"quantitative"}}},
     {"data":{"name":"letters"},"transform":[{"filter":"datum.p==='f'"}],"mark":{"type":"text","text":"eGFP-","fontSize":16,"fontWeight":"bold","color":"#9a9a9a","align":"center","baseline":"middle"},
      "encoding":{"x":{"datum":116.7,"type":"quantitative"},"y":{"datum":382,"type":"quantitative"}}}
    ]}
 ],"spacing":37,"bounds":"flush"},
 {"hconcat":[
   {"width":300,"height":193,
    "layer":[
     {"data":{"name":"drr"},"transform":[{"filter":"datum.p==='g'"}],"mark":{"type":"point","shape":"triangle-down","size":70,"filled":true,"color":"#000","opacity":1},
      "encoding":{"x":{"field":"t","type":"quantitative","scale":{"domain":[-2,104],"nice":false,"zero":false},"axis":{"values":[0,20,40,60,80,100],"labelOverlap":false,"title":"Time (h)","labelPadding":8,"titlePadding":6}},
       "y":{"field":"v","type":"quantitative","scale":{"domain":[0,1],"nice":false},"axis":{"values":[0,0.2,0.4,0.6,0.8,1],"labelOverlap":false,"labelExpr":"replace(format(datum.value,'.1f'),'.',',')","title":"Decimal reduction rate","titlePadding":8}}}},
     {"data":{"name":"vl"},"transform":[{"filter":"datum.p==='g'"}],"mark":{"type":"rule","strokeDash":[7,4],"strokeWidth":3,"color":"#000"},
      "encoding":{"x":{"field":"t","type":"quantitative"}}},
     {"data":{"name":"letters"},"transform":[{"filter":"datum.p==='g'"}],"mark":{"type":"text","fontSize":20,"fontWeight":"bold","align":"right","baseline":"middle"},
      "encoding":{"text":{"field":"p"},"x":{"datum":103.0,"type":"quantitative"},"y":{"datum":0.995,"type":"quantitative","axis":{"values":[0,0.2,0.4,0.6,0.8,1],"labelOverlap":false,"labelExpr":"replace(format(datum.value,'.1f'),'.',',')","title":"Decimal reduction rate","titlePadding":8}}}}
    ]},
   {"width":304,"height":193,
    "layer":[
     {"data":{"name":"drr"},"transform":[{"filter":"datum.p==='h'"}],"mark":{"type":"point","shape":"triangle-down","size":70,"filled":true,"color":"#000","opacity":1},
      "encoding":{"x":{"field":"t","type":"quantitative","scale":{"domain":[-2,104],"nice":false,"zero":false},"axis":{"values":[0,20,40,60,80,100],"labelOverlap":false,"title":"Time (h)","labelPadding":8,"titlePadding":6}},
       "y":{"field":"v","type":"quantitative","scale":{"domain":[0,1],"nice":false},"axis":{"values":[0,0.2,0.4,0.6,0.8,1],"labels":false,"title":null}}}},
     {"data":{"name":"vl"},"transform":[{"filter":"datum.p==='h'"}],"mark":{"type":"rule","strokeDash":[7,4],"strokeWidth":3,"color":"#000"},
      "encoding":{"x":{"field":"t","type":"quantitative"}}},
     {"data":{"name":"arrows"},"mark":{"type":"rule","strokeWidth":3,"color":"#7030a0"},
      "encoding":{"x":{"field":"t","type":"quantitative"},"y":{"datum":0.38,"type":"quantitative","axis":{"values":[0,0.2,0.4,0.6,0.8,1],"labels":false,"title":null}},"y2":{"datum":0.185}}},
     {"data":{"name":"arrows"},"mark":{"type":"point","shape":"M-1,-1.5L0,0L1,-1.5","size":256,"filled":false,"stroke":"#7030a0","strokeWidth":3,"opacity":1},
      "encoding":{"x":{"field":"t","type":"quantitative"},"y":{"datum":0.18,"type":"quantitative","axis":{"values":[0,0.2,0.4,0.6,0.8,1],"labels":false,"title":null}}}},
     {"data":{"name":"letters"},"transform":[{"filter":"datum.p==='h'"}],"mark":{"type":"text","fontSize":20,"fontWeight":"bold","align":"right","baseline":"middle"},
      "encoding":{"text":{"field":"p"},"x":{"datum":100.9,"type":"quantitative"},"y":{"datum":0.995,"type":"quantitative","axis":{"values":[0,0.2,0.4,0.6,0.8,1],"labels":false,"title":null}}}}
    ]},
   {"width":300,"height":193,
    "layer":[
     {"data":{"name":"drr"},"transform":[{"filter":"datum.p==='i'"}],"mark":{"type":"point","shape":"triangle-down","size":70,"filled":true,"color":"#000","opacity":1},
      "encoding":{"x":{"field":"t","type":"quantitative","scale":{"domain":[-2,104],"nice":false,"zero":false},"axis":{"values":[0,20,40,60,80,100],"labelOverlap":false,"title":"Time (h)","labelPadding":8,"titlePadding":6}},
       "y":{"field":"v","type":"quantitative","scale":{"domain":[0,1],"nice":false},"axis":{"values":[0,0.2,0.4,0.6,0.8,1],"labels":false,"title":null}}}},
     {"data":{"name":"vl"},"transform":[{"filter":"datum.p==='i'"}],"mark":{"type":"rule","strokeDash":[7,4],"strokeWidth":3,"color":"#000"},
      "encoding":{"x":{"field":"t","type":"quantitative"}}},
     {"data":{"name":"letters"},"transform":[{"filter":"datum.p==='i'"}],"mark":{"type":"text","fontSize":20,"fontWeight":"bold","align":"right","baseline":"middle"},
      "encoding":{"text":{"field":"p"},"x":{"datum":100.1,"type":"quantitative"},"y":{"datum":0.995,"type":"quantitative","axis":{"values":[0,0.2,0.4,0.6,0.8,1],"labels":false,"title":null}}}}
    ]}
 ],"spacing":37,"bounds":"flush"}
]
}
